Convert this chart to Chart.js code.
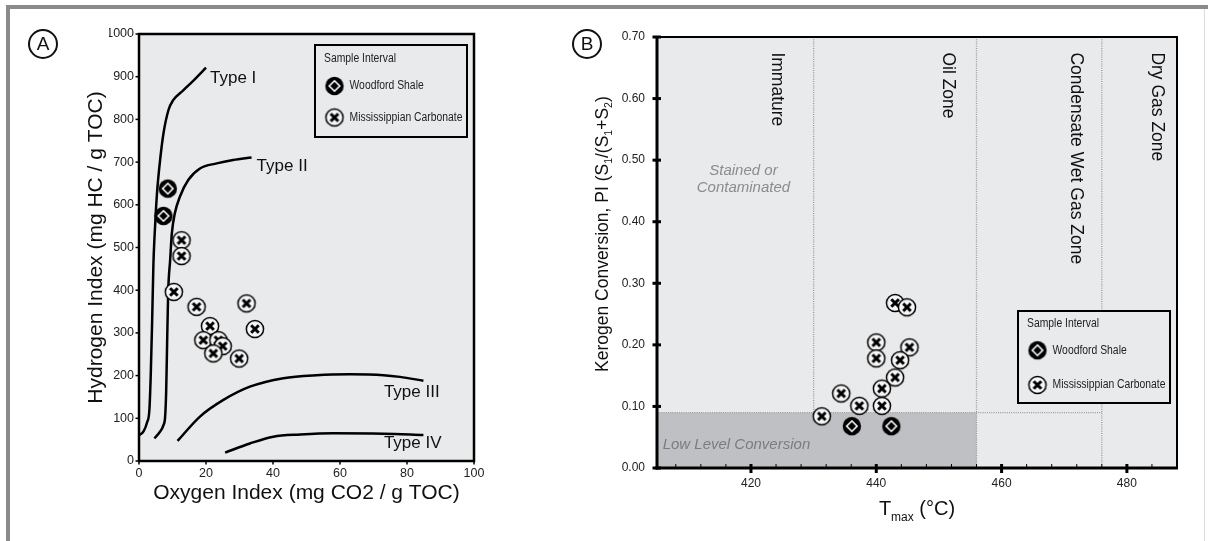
<!DOCTYPE html>
<html>
<head>
<meta charset="utf-8">
<title>Rock-Eval plots</title>
<script src="https://cdn.jsdelivr.net/npm/chart.js@4.4.1/dist/chart.umd.min.js"></script>
<style>
    html, body { margin: 0; padding: 0; background: #fff; }
    body { width: 1208px; height: 541px; position: relative; overflow: hidden; font-family: "Liberation Sans", Arial, sans-serif; }
    .frameTop { position: absolute; left: 6px; top: 5px; width: 1202px; height: 4px; background: #8a8a8a; }
    .frameLeft { position: absolute; left: 6px; top: 5px; width: 4px; height: 536px; background: #8a8a8a; }
    .frameRight { position: absolute; left: 1204px; top: 9px; width: 1px; height: 532px; background: #dcdcdc; }
    .panel { position: absolute; top: 0; }
    .tag { position: absolute; width: 26px; height: 26px; border: 2px solid #111; border-radius: 50%;
           font-size: 19px; line-height: 26px; text-align: center; color: #111; }
</style>
</head>
<body>
<div class="frameTop"></div>
<div class="frameLeft"></div>
<div class="frameRight"></div>
<div class="panel" style="left:0"><canvas id="chartA" width="560" height="541"></canvas></div>
<div class="panel" style="left:560px"><canvas id="chartB" width="648" height="541"></canvas></div>
<div class="tag" style="left:28px; top:29px">A</div>
<div class="tag" style="left:572px; top:29px">B</div>
<script>
// ---- data: panel A (HI vs OI) ----
const oiTicks = [0, 20, 40, 60, 80, 100];
const hiTicks = [0, 100, 200, 300, 400, 500, 600, 700, 800, 900, 1000];

const woodfordOI = [8.6, 7.3];
const woodfordHI = [638, 574];
const missOI = [12.7, 12.7, 10.4, 17.2, 32.1, 21.2, 34.6, 19.2, 23.7, 25.0, 22.2, 29.9];
const missHI = [517, 480, 396, 361, 369, 316, 309, 283, 283, 269, 252, 240];

const typeIOI = [0, 1.4, 2.4, 3.1, 3.5, 3.9, 4.3, 4.6, 5.0, 5.5, 6.3, 7.3, 8.8, 10.2, 13.2, 16.4, 20];
const typeIHI = [60, 70, 90, 120, 200, 320, 460, 520, 580, 640, 705, 767, 822, 845, 868, 892, 921];
const typeIIOI = [4.6, 6.2, 7.3, 7.8, 8.1, 8.3, 8.7, 9.3, 9.8, 10.7, 12.2, 14.7, 18.2, 23.2, 28.1, 33.6];
const typeIIHI = [53, 68, 84, 104, 160, 237, 393, 471, 533, 580, 619, 658, 685, 697, 705, 711];
const typeIIIOI = [11.5, 18.2, 25.2, 33.1, 43.1, 53, 63, 73, 77.9, 84.9];
const typeIIIHI = [47, 104, 143, 174, 194, 201, 203, 201, 197, 188];
const typeIVOI = [25.7, 33.1, 40.1, 48.1, 58, 73, 84.9];
const typeIVHI = [19.5, 41, 57, 62, 65, 64, 61];

// ---- data: panel B (PI vs Tmax) ----
const tmaxTicks = [420, 440, 460, 480];
const tmaxMinorTicks = [408, 412, 416, 424, 428, 432, 436, 444, 448, 452, 456, 464, 468, 472, 476, 484];
const piTicks = [0, 0.1, 0.2, 0.3, 0.4, 0.5, 0.6, 0.7];

const woodfordTmax = [436.1, 442.4];
const woodfordPI = [0.068, 0.068];
const missTmax = [443.0, 444.9, 440.0, 445.3, 440.0, 443.8, 443.0, 440.9, 434.4, 437.3, 440.9, 431.3];
const missPI = [0.268, 0.261, 0.204, 0.196, 0.178, 0.175, 0.147, 0.129, 0.121, 0.101, 0.101, 0.084];

const zoneBounds = [430, 456, 476];
const lowConversionPI = 0.09;

const SANS = "'Liberation Sans', Arial, sans-serif";

function pts(xs, ys) {
    return xs.map((x, i) => ({ x: x, y: ys[i] }));
}

// marker images
function woodfordMarker() {
    const c = document.createElement("canvas");
    c.width = c.height = 22;
    const g = c.getContext("2d");
    g.fillStyle = "#000";
    g.beginPath(); g.arc(11, 11, 9.2, 0, Math.PI * 2); g.fill();
    g.strokeStyle = "#fff"; g.lineWidth = 1.6;
    g.beginPath(); g.moveTo(11, 5.8); g.lineTo(16.2, 11); g.lineTo(11, 16.2); g.lineTo(5.8, 11); g.closePath(); g.stroke();
    return c;
}
function missMarker() {
    const c = document.createElement("canvas");
    c.width = c.height = 22;
    const g = c.getContext("2d");
    g.fillStyle = "#f6f6f7"; g.strokeStyle = "#000"; g.lineWidth = 1.5;
    g.beginPath(); g.arc(11, 11, 8.6, 0, Math.PI * 2); g.fill(); g.stroke();
    g.lineWidth = 3;
    g.beginPath(); g.moveTo(7.2, 7.2); g.lineTo(14.8, 14.8); g.moveTo(14.8, 7.2); g.lineTo(7.2, 14.8); g.stroke();
    return c;
}
const woodImg = woodfordMarker();
const missImg = missMarker();

// shared plugins
const plotBg = {
    id: "plotBg",
    beforeDraw(chart) {
        const { ctx, chartArea: a } = chart;
        ctx.save();
        ctx.fillStyle = "#e9eaec";
        ctx.fillRect(a.left, a.top, a.right - a.left, a.bottom - a.top);
        ctx.restore();
    }
};

// condensed text: regular face squeezed horizontally
function narrowText(ctx, text, x, y) {
    ctx.save();
    ctx.translate(x, y);
    ctx.scale(0.83, 1);
    ctx.fillText(text, 0, 0);
    ctx.restore();
}

function drawLegend(ctx, x, y, w, h, rowY) {
    ctx.save();
    ctx.fillStyle = "#e9eaec";
    ctx.fillRect(x, y, w, h);
    ctx.strokeStyle = "#000"; ctx.lineWidth = 2;
    ctx.strokeRect(x, y, w, h);
    ctx.fillStyle = "#222";
    ctx.font = "12.5px " + SANS;
    ctx.textBaseline = "middle"; ctx.textAlign = "left";
    narrowText(ctx, "Sample Interval", x + 9, y + rowY[0]);
    ctx.drawImage(woodImg, x + 19.5 - 11, y + rowY[1] - 11);
    narrowText(ctx, "Woodford Shale", x + 34.5, y + rowY[1]);
    ctx.drawImage(missImg, x + 19.5 - 11, y + rowY[2] - 11);
    narrowText(ctx, "Mississippian Carbonate", x + 34.5, y + rowY[2]);
    ctx.restore();
}

function line(ctx, x1, y1, x2, y2) {
    ctx.beginPath(); ctx.moveTo(x1, y1); ctx.lineTo(x2, y2); ctx.stroke();
}

// ---- panel A ----
const decorA = {
    id: "decorA",
    afterDatasetsDraw(chart) {
        const { ctx, chartArea: a, scales: { x, y } } = chart;
        ctx.save();
        // type labels
        ctx.fillStyle = "#111";
        ctx.font = "17px " + SANS;
        ctx.textBaseline = "middle";
        ctx.fillText("Type I", x.getPixelForValue(21.2), y.getPixelForValue(897));
        ctx.fillText("Type II", x.getPixelForValue(35.1), y.getPixelForValue(689));
        ctx.fillText("Type III", x.getPixelForValue(73.1), y.getPixelForValue(162));
        ctx.fillText("Type IV", x.getPixelForValue(73.1), y.getPixelForValue(41));
        // frame + ticks
        ctx.strokeStyle = "#000"; ctx.lineWidth = 2.5;
        ctx.strokeRect(a.left, a.top, a.right - a.left, a.bottom - a.top);
        ctx.lineWidth = 1.5;
        hiTicks.forEach(v => { const p = y.getPixelForValue(v); line(ctx, a.left - 3.5, p, a.left, p); });
        oiTicks.forEach(v => { const p = x.getPixelForValue(v); line(ctx, p, a.bottom, p, a.bottom + 3.5); });
        ctx.restore();
    },
    afterDraw(chart) {
        const { ctx, chartArea: a } = chart;
        drawLegend(ctx, a.right - 159, a.top + 11, 152, 92, [13.5, 41, 72.5]);
        ctx.save();
        ctx.fillStyle = "#111";
        ctx.font = "21px " + SANS;
        ctx.textAlign = "center"; ctx.textBaseline = "middle";
        ctx.fillText("Oxygen Index (mg CO2 / g TOC)", (a.left + a.right) / 2, a.bottom + 32);
        ctx.translate(a.left - 43, (a.top + a.bottom) / 2);
        ctx.rotate(-Math.PI / 2);
        ctx.fillText("Hydrogen Index (mg HC / g TOC)", 0, 0);
        ctx.restore();
    }
};

const curveStyle = { showLine: true, pointRadius: 0, borderColor: "#000", backgroundColor: "#000", borderWidth: 2.5, cubicInterpolationMode: "monotone" };

new Chart(document.getElementById("chartA"), {
    type: "scatter",
    data: {
        datasets: [
            { label: "Woodford Shale", data: pts(woodfordOI, woodfordHI), pointStyle: woodImg, pointRadius: 9 },
            { label: "Mississippian Carbonate", data: pts(missOI, missHI), pointStyle: missImg, pointRadius: 9 },
            Object.assign({ label: "Type I", data: pts(typeIOI, typeIHI) }, curveStyle),
            Object.assign({ label: "Type II", data: pts(typeIIOI, typeIIHI) }, curveStyle),
            Object.assign({ label: "Type III", data: pts(typeIIIOI, typeIIIHI) }, curveStyle),
            Object.assign({ label: "Type IV", data: pts(typeIVOI, typeIVHI) }, curveStyle)
        ]
    },
    options: {
        responsive: false,
        animation: false,
        layout: { padding: { left: 109, top: 34, right: 86, bottom: 50 } },
        plugins: { legend: { display: false }, tooltip: { enabled: false } },
        scales: {
            x: {
                type: "linear", min: 0, max: 100,
                afterBuildTicks: s => { s.ticks = oiTicks.map(v => ({ value: v })); },
                afterFit: s => { s.height = 30; },
                grid: { display: false, drawTicks: false },
                border: { display: false },
                ticks: { padding: 5, color: "#222", font: { family: SANS, size: 12.5 }, callback: v => String(v) }
            },
            y: {
                type: "linear", min: 0, max: 1000,
                afterBuildTicks: s => { s.ticks = hiTicks.map(v => ({ value: v })); },
                afterFit: s => { s.width = 30; },
                grid: { display: false, drawTicks: false },
                border: { display: false },
                ticks: { padding: 5, color: "#222", font: { family: SANS, size: 12.5 }, callback: v => String(v) }
            }
        }
    },
    plugins: [plotBg, decorA]
});

// ---- panel B ----
const zonesB = {
    id: "zonesB",
    beforeDatasetsDraw(chart) {
        const { ctx, chartArea: a, scales: { x, y } } = chart;
        const yLow = y.getPixelForValue(lowConversionPI);
        const xImm = x.getPixelForValue(zoneBounds[0]);
        const xOil = x.getPixelForValue(zoneBounds[1]);
        const xWet = x.getPixelForValue(zoneBounds[2]);
        ctx.save();
        ctx.fillStyle = "#bfc0c3";
        ctx.fillRect(a.left, yLow, xOil - a.left, a.bottom - yLow);
        ctx.strokeStyle = "#9c9c9c"; ctx.lineWidth = 1.3; ctx.setLineDash([1, 1.2]);
        line(ctx, xImm, a.top, xImm, yLow);
        line(ctx, xOil, a.top, xOil, a.bottom);
        line(ctx, xWet, a.top, xWet, a.bottom);
        line(ctx, a.left, yLow, xWet, yLow);
        ctx.setLineDash([]);
        // zone names, rotated
        ctx.fillStyle = "#111";
        ctx.font = "17.5px " + SANS;
        ctx.textBaseline = "middle"; ctx.textAlign = "left";
        [["Immature", 424.2], ["Oil Zone", 451.5], ["Condensate Wet Gas Zone", 471.8], ["Dry Gas Zone", 484.8]].forEach(z => {
            ctx.save();
            ctx.translate(x.getPixelForValue(z[1]), y.getPixelForValue(0.675));
            ctx.rotate(Math.PI / 2);
            ctx.fillText(z[0], 0, 0);
            ctx.restore();
        });
        ctx.fillStyle = "#8c8c8c";
        ctx.font = "italic 15px " + SANS;
        ctx.textAlign = "center";
        ctx.fillText("Stained or", x.getPixelForValue(418.8), y.getPixelForValue(0.483));
        ctx.fillText("Contaminated", x.getPixelForValue(418.8), y.getPixelForValue(0.455));
        ctx.fillStyle = "#7c7c7e";
        ctx.textAlign = "left";
        ctx.fillText("Low Level Conversion", x.getPixelForValue(405.9), y.getPixelForValue(0.038));
        ctx.restore();
    },
    afterDatasetsDraw(chart) {
        const { ctx, chartArea: a, scales: { x, y } } = chart;
        ctx.save();
        ctx.strokeStyle = "#000";
        ctx.lineWidth = 2;
        line(ctx, a.left, a.top, a.right + 1, a.top);
        line(ctx, a.right, a.top, a.right, a.bottom);
        ctx.lineWidth = 3;
        line(ctx, a.left, a.top - 1, a.left, a.bottom + 1.5);
        line(ctx, a.left - 1.5, a.bottom, a.right + 1, a.bottom);
        piTicks.forEach(v => { const p = y.getPixelForValue(v); line(ctx, a.left - 4.5, p, a.left + 4, p); });
        tmaxTicks.forEach(v => { const p = x.getPixelForValue(v); line(ctx, p, a.bottom - 4, p, a.bottom + 5); });
        ctx.lineWidth = 1;
        tmaxMinorTicks.forEach(v => { const p = x.getPixelForValue(v); line(ctx, p, a.bottom, p, a.bottom - 4); });
        ctx.restore();
    },
    afterDraw(chart) {
        const { ctx, chartArea: a } = chart;
        drawLegend(ctx, a.right - 159, a.bottom - 157, 152, 92, [12.6, 39.3, 74]);
        ctx.save();
        ctx.fillStyle = "#111";
        // x title: T_max (°C)
        const big = "20px " + SANS, small = "12px " + SANS;
        ctx.font = big; const wT = ctx.measureText("T").width; const wC = ctx.measureText(" (°C)").width;
        ctx.font = small; const wM = ctx.measureText("max").width;
        let cx = (a.left + a.right) / 2 - (wT + wM + wC) / 2;
        const base = a.bottom + 47;
        ctx.textBaseline = "alphabetic"; ctx.textAlign = "left";
        ctx.font = big; ctx.fillText("T", cx, base); cx += wT;
        ctx.font = small; ctx.fillText("max", cx, base + 6); cx += wM;
        ctx.font = big; ctx.fillText(" (°C)", cx, base);
        // y title with subscripts
        ctx.translate(a.left - 49, a.bottom - 96);
        ctx.rotate(-Math.PI / 2);
        const parts = [["Kerogen Conversion, PI (S", 0], ["1", 1], ["/(S", 0], ["1", 1], ["+S", 0], ["2", 1], [")", 0]];
        let px = 0;
        parts.forEach(p => {
            ctx.font = p[1] ? "10.5px " + SANS : "17.5px " + SANS;
            ctx.fillText(p[0], px, p[1] ? 4 : 0);
            px += ctx.measureText(p[0]).width;
        });
        ctx.restore();
    }
};

new Chart(document.getElementById("chartB"), {
    type: "scatter",
    data: {
        datasets: [
            { label: "Woodford Shale", data: pts(woodfordTmax, woodfordPI), pointStyle: woodImg, pointRadius: 9 },
            { label: "Mississippian Carbonate", data: pts(missTmax, missPI), pointStyle: missImg, pointRadius: 9 }
        ]
    },
    options: {
        responsive: false,
        animation: false,
        layout: { padding: { left: 57, top: 37, right: 31, bottom: 43 } },
        plugins: { legend: { display: false }, tooltip: { enabled: false } },
        scales: {
            x: {
                type: "linear", min: 405, max: 488,
                afterBuildTicks: s => { s.ticks = tmaxTicks.map(v => ({ value: v })); },
                afterFit: s => { s.height = 30; },
                grid: { display: false, drawTicks: false },
                border: { display: false },
                ticks: { padding: 8, color: "#222", font: { family: SANS, size: 12 }, callback: v => String(v) }
            },
            y: {
                type: "linear", min: 0, max: 0.7,
                afterBuildTicks: s => { s.ticks = piTicks.map(v => ({ value: v })); },
                afterFit: s => { s.width = 40; },
                grid: { display: false, drawTicks: false },
                border: { display: false },
                ticks: { padding: 12, color: "#222", font: { family: SANS, size: 12 }, callback: v => v.toFixed(2) }
            }
        }
    },
    plugins: [plotBg, zonesB]
});
</script>
</body>
</html>
